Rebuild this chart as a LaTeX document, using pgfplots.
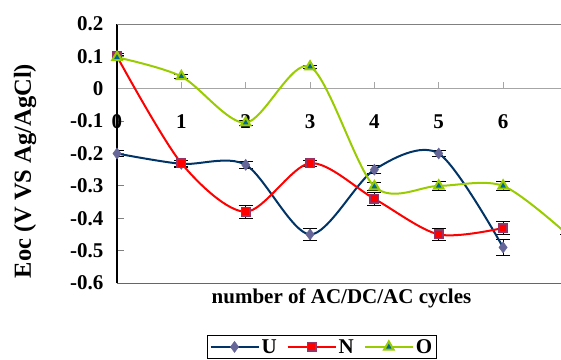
\documentclass[border=0pt]{standalone}
\usepackage{fontspec}
\setmainfont{Liberation Serif}[BoldFont={Liberation Serif Bold}]
\usepackage{pgfplots}
\usepackage{pgfplotstable}
\pgfplotsset{compat=1.18}
\definecolor{uline}{HTML}{003366}
\definecolor{ufill}{HTML}{666699}
\definecolor{nline}{HTML}{FF0000}
\definecolor{nedge}{HTML}{993366}
\definecolor{oline}{HTML}{99CC00}
\definecolor{ofill}{HTML}{006699}
\pgfplotstableread{
x y e
0 -0.200 0.010
1 -0.232 0.012
2 -0.235 0.012
3 -0.450 0.020
4 -0.250 0.013
5 -0.200 0.010
6 -0.490 0.025
}\tabU
\pgfplotstableread{
x y e
0 0.100 0.010
1 -0.230 0.010
2 -0.380 0.020
3 -0.230 0.010
4 -0.340 0.020
5 -0.450 0.020
6 -0.430 0.020
}\tabN
\pgfplotstableread{
x y e
0 0.097 0.005
1 0.038 0.005
2 -0.105 0.008
3 0.068 0.005
4 -0.302 0.013
5 -0.300 0.013
6 -0.300 0.013
7 -0.450 0.000
}\tabO
\begin{document}
\begin{tikzpicture}
\begin{axis}[
  name=ax, at={(0,0)}, anchor=south west,
  scale only axis, width=444bp, height=259bp,
  xmin=0, xmax=6.9, ymin=-0.6, ymax=0.2,
  axis x line=middle, axis y line=left,
  axis line style={-},
  x axis line style={draw=black!35, line width=1bp},
  y axis line style={draw=black, line width=1.3bp},
  hide obscured x ticks=false, hide obscured y ticks=false,
  tick align=inside,
  major tick length=7bp,
  xtick={0,1,2,3,4,5,6}, xticklabels={0,1,2,3,4,5,6},
  ytick={-0.6,-0.5,-0.4,-0.3,-0.2,-0.1,0,0.1,0.2},
  yticklabels={-0.6,-0.5,-0.4,-0.3,-0.2,-0.1,0,0.1,0.2},
  x tick style={draw=black!35, line width=1bp},
  y tick style={draw=black!50, line width=1bp},
  tick label style={font=\fontsize{21bp}{25bp}\selectfont\bfseries},
  xticklabel style={anchor=base, yshift=-40bp},
  yticklabel style={anchor=east, xshift=-10bp},
  xlabel={number of AC/DC/AC cycles},
  ylabel={Eoc (V VS Ag/AgCl)},
  every axis x label/.style={at={(axis description cs:0.5056,-0.081)}, anchor=base, font=\fontsize{21bp}{25bp}\selectfont\bfseries},
  every axis y label/.style={at={(axis description cs:-0.1937,0.432)}, anchor=base, rotate=90, font=\fontsize{24.5bp}{28bp}\selectfont\bfseries},
  legend columns=3,
  legend style={at={(axis description cs:0.203,-0.2)}, anchor=north west, draw=black, line width=0.8bp,
    font=\fontsize{21bp}{25bp}\selectfont\bfseries, inner sep=2bp,
    /tikz/every even column/.append style={column sep=8bp}},
  legend image code/.code={\draw[#1, mark=none] (0bp,0bp) -- (48bp,0bp); \draw[#1] plot coordinates {(24bp,0bp)};},
  error bars/error bar style={draw=black, line width=0.9bp, solid},
  error bars/error mark options={draw=black, rotate=90, mark size=7bp, line width=0.9bp},
]
% error bars
\addplot[forget plot, draw=none, mark=none, error bars/.cd, y dir=both, y explicit] table[x=x, y=y, y error=e] {\tabU};
\addplot[forget plot, draw=none, mark=none, error bars/.cd, y dir=both, y explicit] table[x=x, y=y, y error=e] {\tabN};
\addplot[forget plot, draw=none, mark=none, error bars/.cd, y dir=both, y explicit] table[x=x, y=y, y error=e] {\tabO};
% series
\addplot[uline, line width=2bp, smooth, mark=diamond*, mark size=5.5bp, mark options={fill=ufill, draw=ufill, line width=0.5bp, solid}] table[x=x, y=y] {\tabU};
\addlegendentry{U}
\addplot[nline, line width=2bp, smooth, mark=square*, mark size=4.2bp, mark options={fill=nline, draw=nedge, line width=1.6bp, solid}] table[x=x, y=y] {\tabN};
\addlegendentry{N}
\addplot[oline, line width=2bp, smooth, mark=triangle*, mark size=5.5bp, mark indices={1,2,3,4,5,6,7}, mark options={fill=ofill, draw=oline, line width=2bp, solid}] table[x=x, y=y] {\tabO};
\addlegendentry{O}
\end{axis}
\draw[black!50, line width=1bp] (ax.north west) -- (ax.north east);
\draw[black!60, line width=1bp] (ax.south west) -- (ax.south east);
\pgfresetboundingbox
\path[use as bounding box] (-117bp,-77bp) rectangle (444bp,283bp);
\end{tikzpicture}
\end{document}
